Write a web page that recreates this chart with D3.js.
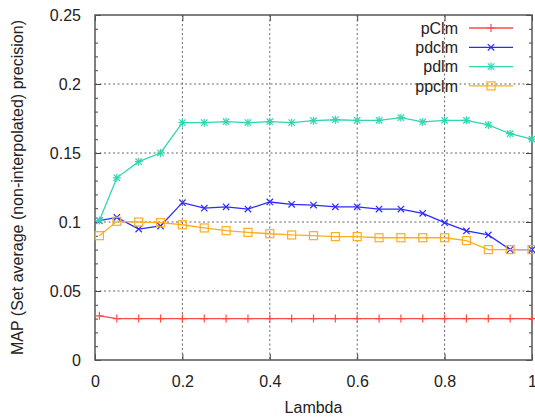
<!DOCTYPE html>
<html>
<head>
<meta charset="utf-8">
<script src="https://cdn.jsdelivr.net/npm/d3@7"></script>
<style>
  body { margin: 0; background: #fff; }
  text { font-family: "Liberation Sans", Arial, sans-serif; fill: #222; }
</style>
</head>
<body>
<svg id="chart" width="535" height="417"></svg>
<script>
// lambda values on the x axis
const lambdas = [0.01, 0.05, 0.1, 0.15, 0.2, 0.25, 0.3, 0.35, 0.4, 0.45, 0.5,
  0.55, 0.6, 0.65, 0.7, 0.75, 0.8, 0.85, 0.9, 0.95, 1.0];

const pClm = [0.032, 0.030, 0.030, 0.030, 0.030, 0.030, 0.030, 0.030, 0.030, 0.030, 0.030,
  0.030, 0.030, 0.030, 0.030, 0.030, 0.030, 0.030, 0.030, 0.030, 0.030];
const pdclm = [0.101, 0.1034, 0.0949, 0.0971, 0.114, 0.110, 0.111, 0.1094, 0.1145, 0.1128, 0.1123,
  0.111, 0.111, 0.1094, 0.1094, 0.1063, 0.0995, 0.0935, 0.0906, 0.080, 0.080];
const pdlm = [0.101, 0.132, 0.1437, 0.150, 0.172, 0.172, 0.1727, 0.172, 0.1727, 0.172, 0.1734,
  0.1741, 0.1737, 0.1737, 0.1756, 0.1725, 0.1737, 0.1737, 0.1703, 0.164, 0.160];
const ppclm = [0.0901, 0.1005, 0.100, 0.0995, 0.098, 0.0957, 0.0937, 0.0925, 0.0915, 0.0906, 0.0901,
  0.0894, 0.0894, 0.0886, 0.0886, 0.0886, 0.0886, 0.0865, 0.080, 0.080, 0.080];

const xTicks = [0, 0.2, 0.4, 0.6, 0.8, 1];
const xTickLabels = ['0', '0.2', '0.4', '0.6', '0.8', '1'];
const yTicks = [0, 0.05, 0.1, 0.15, 0.2, 0.25];
const yTickLabels = ['0', '0.05', '0.1', '0.15', '0.2', '0.25'];

const series = [
  { name: 'pClm', values: pClm, color: '#ff4a4a', marker: 'plus' },
  { name: 'pdclm', values: pdclm, color: '#2b2bff', marker: 'cross' },
  { name: 'pdlm', values: pdlm, color: '#2fd6b0', marker: 'star' },
  { name: 'ppclm', values: ppclm, color: '#ffad1f', marker: 'square' }
];

const plotLeft = 95, plotRight = 532, plotTop = 15, plotBottom = 360;
const x = d3.scaleLinear().domain([0, 1]).range([plotLeft, plotRight]);
const y = d3.scaleLinear().domain([0, 0.25]).range([plotBottom, plotTop]);

const svg = d3.select('#chart');

// grid (dotted), skip the border positions
const grid = svg.append('g').attr('stroke', '#666').attr('stroke-width', 1)
  .attr('stroke-dasharray', '2,2.5');
grid.selectAll('.gx').data(xTicks.slice(1, -1)).join('line')
  .attr('x1', d => x(d)).attr('x2', d => x(d))
  .attr('y1', plotTop).attr('y2', plotBottom);
grid.selectAll('.gy').data(yTicks.slice(1, -1)).join('line')
  .attr('x1', plotLeft).attr('x2', plotRight)
  .attr('y1', d => y(d)).attr('y2', d => y(d));

// axes with inward ticks, gnuplot style
const minorY = d3.range(0, 0.2501, 0.01).filter(v => Math.abs(v / 0.05 - Math.round(v / 0.05)) > 1e-6);

svg.append('g').attr('transform', `translate(${plotLeft},0)`)
  .call(d3.axisLeft(y).tickValues(yTicks).tickSize(-6).tickPadding(14)
    .tickFormat((d, i) => yTickLabels[i]));
svg.append('g').attr('transform', `translate(${plotLeft},0)`)
  .call(d3.axisLeft(y).tickValues(minorY).tickSize(-3).tickFormat(''));
svg.append('g').attr('transform', `translate(${plotRight},0)`)
  .call(d3.axisRight(y).tickValues(yTicks).tickSize(-6).tickFormat(''));
svg.append('g').attr('transform', `translate(${plotRight},0)`)
  .call(d3.axisRight(y).tickValues(minorY).tickSize(-3).tickFormat(''));
svg.append('g').attr('transform', `translate(0,${plotBottom})`)
  .call(d3.axisBottom(x).tickValues(xTicks).tickSize(-6).tickPadding(16)
    .tickFormat((d, i) => xTickLabels[i]));
svg.append('g').attr('transform', `translate(0,${plotTop})`)
  .call(d3.axisTop(x).tickValues(xTicks).tickSize(-6).tickFormat(''));

svg.selectAll('.domain').remove();
svg.selectAll('.tick line').attr('stroke', '#444');
svg.selectAll('.tick text').attr('font-size', 16).attr('fill', '#222')
  .style('font-family', '"Liberation Sans", Arial, sans-serif');

// border
svg.append('rect').attr('x', plotLeft).attr('y', plotTop)
  .attr('width', plotRight - plotLeft).attr('height', plotBottom - plotTop)
  .attr('fill', 'none').attr('stroke', '#555').attr('stroke-width', 1.5);

// marker drawing
function marker(sel, type, color) {
  const s = 4;
  if (type === 'plus' || type === 'star') {
    sel.append('path').attr('d', `M${-s},0H${s}M0,${-s}V${s}`);
  }
  if (type === 'cross' || type === 'star') {
    sel.append('path').attr('d', `M${-s * 0.8},${-s * 0.8}L${s * 0.8},${s * 0.8}M${-s * 0.8},${s * 0.8}L${s * 0.8},${-s * 0.8}`);
  }
  if (type === 'square') {
    sel.append('rect').attr('x', -s).attr('y', -s).attr('width', 2 * s).attr('height', 2 * s);
  }
  sel.attr('stroke', color).attr('fill', 'none').attr('stroke-width', 1.2);
}

const line = d3.line().x((d, i) => x(lambdas[i])).y(d => y(d));
const plot = svg.append('g');
series.forEach(s => {
  plot.append('path').datum(s.values).attr('d', line)
    .attr('fill', 'none').attr('stroke', s.color).attr('stroke-width', 1.3);
  plot.selectAll(null).data(s.values).join('g')
    .attr('transform', (d, i) => `translate(${x(lambdas[i])},${y(d)})`)
    .each(function () { marker(d3.select(this), s.marker, s.color); });
});

// legend
const legend = svg.append('g');
series.forEach((s, i) => {
  const ly = 28 + i * 19.3;
  legend.append('text').attr('x', 458).attr('y', ly).attr('dy', '0.35em')
    .attr('text-anchor', 'end').attr('font-size', 16).text(s.name);
  legend.append('line').attr('x1', 469).attr('x2', 513).attr('y1', ly).attr('y2', ly)
    .attr('stroke', s.color).attr('stroke-width', 1.3);
  marker(legend.append('g').attr('transform', `translate(491,${ly})`), s.marker, s.color);
});

// axis labels
svg.append('text').attr('x', (plotLeft + plotRight) / 2).attr('y', 413)
  .attr('text-anchor', 'middle').attr('font-size', 16).text('Lambda');
svg.append('text').attr('transform', `translate(23,${(plotTop + plotBottom) / 2}) rotate(-90)`)
  .attr('text-anchor', 'middle').attr('font-size', 16)
  .text('MAP (Set average (non-interpolated) precision)');
</script>
</body>
</html>
